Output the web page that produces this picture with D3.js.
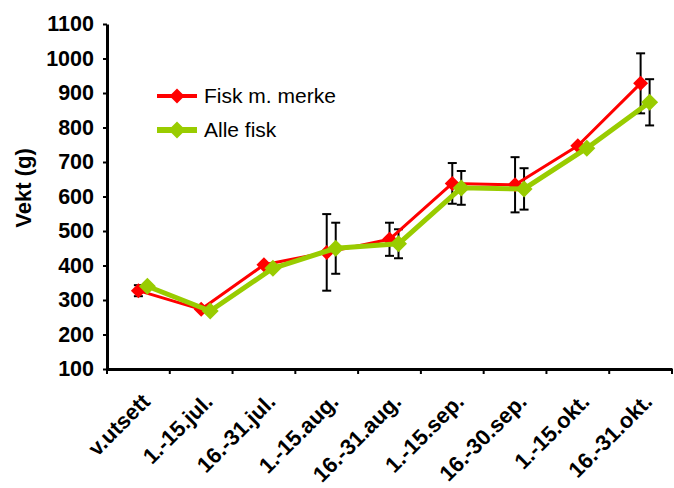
<!DOCTYPE html>
<html><head><meta charset="utf-8">
<script src="https://cdn.jsdelivr.net/npm/d3@7"></script>
<style>body{margin:0;background:#fff}</style>
</head><body>
<svg id="c" width="674" height="488"></svg>
<script>
const categories = ["v.utsett","1.-15.jul.","16.-31.jul.","1.-15.aug.","16.-31.aug.","1.-15.sep.","16.-30.sep.","1.-15.okt.","16.-31.okt."];
const redValues   = [327, 273, 402, 438, 476, 638, 634, 747, 928];
const redErrors   = [16, 0, 0, 111, 48, 59, 80, 0, 87];
const greenValues = [340, 268, 392, 450, 463, 625, 622, 740, 873];
const greenErrors = [0, 0, 0, 74, 42, 49, 60, 0, 67];
const yTicks = [100,200,300,400,500,600,700,800,900,1000,1100];
const seriesNames = ["Fisk m. merke","Alle fisk"];

(function(){
const svg = d3.select("#c");
const mL = 107, mR = 672, mT = 24, mB = 369;
const x = d3.scaleBand().domain(categories).range([mL, mR]);
const y = d3.scaleLinear().domain([100, 1100]).range([mB, mT]);
const font = "'Liberation Sans', Arial, sans-serif";

const yAxis = d3.axisLeft(y).tickValues(yTicks).tickFormat(d3.format("d")).tickSize(4).tickSizeOuter(0).tickPadding(9);
const gy = svg.append("g").attr("transform", `translate(${mL},0)`).call(yAxis);
gy.select(".domain").attr("stroke","#000").attr("stroke-width",3);
gy.selectAll(".tick line").attr("stroke","#000").attr("stroke-width",2);
gy.selectAll(".tick text").attr("font-family",font).attr("font-weight","bold").attr("font-size","21.5px").attr("fill","#000");

const xAxis = d3.axisBottom(x).tickValues([]).tickSizeOuter(0);
const gx = svg.append("g").attr("transform", `translate(0,${mB})`).call(xAxis);
gx.select(".domain").attr("stroke","#000").attr("stroke-width",3);
const bounds = categories.map(c => x(c)).concat([mR]);
gx.selectAll("line.bt").data(bounds).enter().append("line")
  .attr("x1", d=>d).attr("x2", d=>d).attr("y1",0).attr("y2",5)
  .attr("stroke","#000").attr("stroke-width",2);
gx.selectAll("text.cl").data(categories).enter().append("text")
  .attr("transform", d => `translate(${x(d)+x.bandwidth()/2+13},${34}) rotate(-45)`)
  .attr("text-anchor","end").attr("font-family",font).attr("font-weight","bold")
  .attr("font-size","22px").attr("fill","#000").text(d=>d);

svg.append("text").attr("transform",`translate(31,188) rotate(-90)`)
  .attr("text-anchor","middle").attr("font-family",font).attr("font-weight","bold")
  .attr("font-size","22px").text("Vekt (g)");

const series = [
  {name: seriesNames[0], vals: redValues, errs: redErrors, color:"#FF0000", lw:3, ms:7.5, off:0},
  {name: seriesNames[1], vals: greenValues, errs: greenErrors, color:"#99CC00", lw:5, ms:8.5, off:9}
];
const cx = (c, s) => x(c) + x.bandwidth()/2 + s.off;

series.forEach(s => {
  const g = svg.append("g");
  categories.forEach((c,i) => {
    const e = s.errs[i]; if (!e) return;
    const X = cx(c,s), y1 = y(s.vals[i]+e), y2 = y(s.vals[i]-e);
    g.append("line").attr("x1",X).attr("x2",X).attr("y1",y1).attr("y2",y2).attr("stroke","#000").attr("stroke-width",2);
    [y1,y2].forEach(yy => g.append("line").attr("x1",X-4.5).attr("x2",X+4.5).attr("y1",yy).attr("y2",yy).attr("stroke","#000").attr("stroke-width",2));
  });
});

const diamond = (X,Y,r) => `M${X},${Y-r}L${X+r},${Y}L${X},${Y+r}L${X-r},${Y}Z`;
series.forEach(s => {
  const line = d3.line().x((d,i)=>cx(categories[i],s)).y(d=>y(d));
  svg.append("path").datum(s.vals).attr("d",line).attr("fill","none").attr("stroke",s.color).attr("stroke-width",s.lw).attr("stroke-linejoin","round");
  svg.selectAll(null).data(s.vals).enter().append("path")
    .attr("d",(d,i)=>diamond(cx(categories[i],s), y(d), s.ms)).attr("fill",s.color);
});

series.forEach((s,i) => {
  const ly = 96 + i*34;
  svg.append("line").attr("x1",157).attr("x2",197).attr("y1",ly).attr("y2",ly).attr("stroke",s.color).attr("stroke-width",s.lw+1);
  svg.append("path").attr("d",diamond(177,ly,s.ms)).attr("fill",s.color);
  svg.append("text").attr("x",204).attr("y",ly+7).attr("font-family",font).attr("font-size","21px").attr("fill","#000").text(s.name);
});
})();
</script>
</body></html>
